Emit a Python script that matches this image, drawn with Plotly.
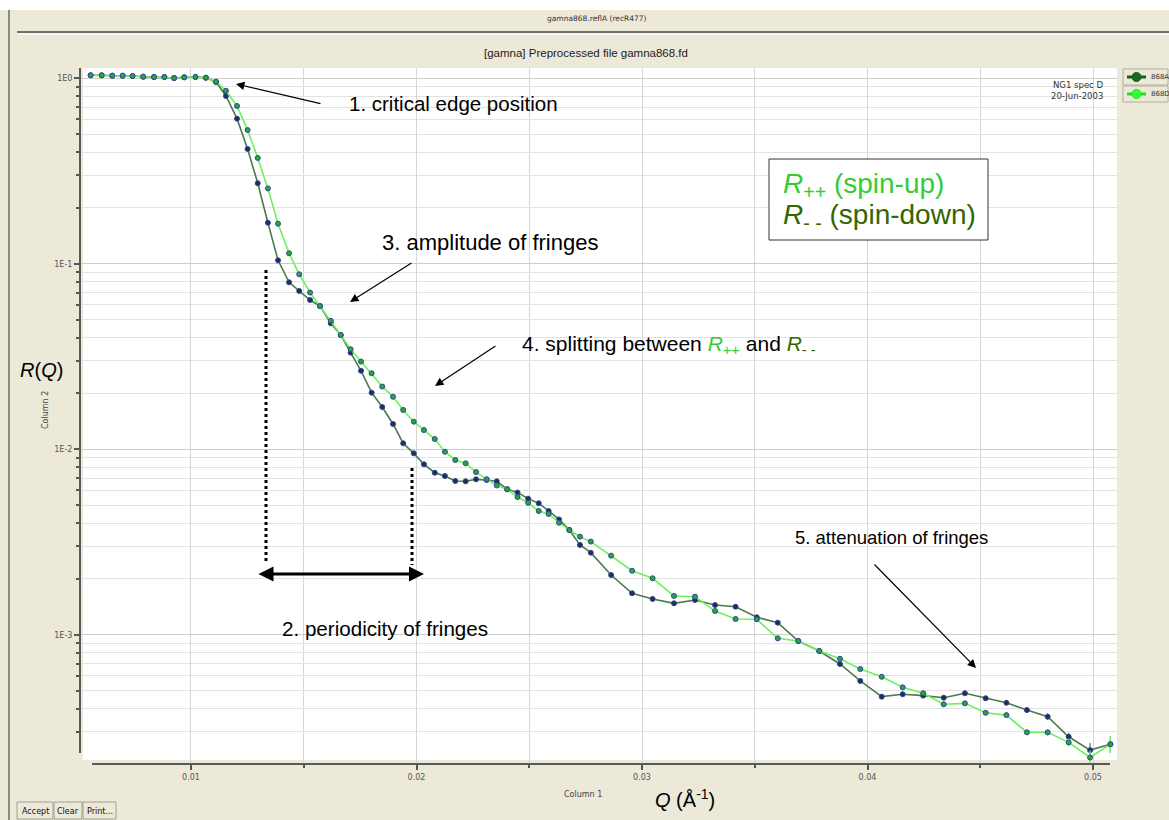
import plotly.graph_objects as go

# Momentum transfer Q (1/Angstrom) shared by both spin channels
q = [0.00555, 0.00604, 0.00651, 0.00697, 0.00741, 0.00788, 0.00836, 0.00882, 0.00925, 0.00970,
     0.01020, 0.01066, 0.01111, 0.01155, 0.01204, 0.01251, 0.01296, 0.01341, 0.01386, 0.01435,
     0.01480, 0.01528, 0.01572, 0.01620, 0.01664, 0.01708, 0.01754, 0.01801, 0.01848, 0.01896,
     0.01941, 0.01988, 0.02033, 0.02081, 0.02126, 0.02172, 0.02218, 0.02264, 0.02311, 0.02356,
     0.02402, 0.02448, 0.02495, 0.02542, 0.02586, 0.02632, 0.02678, 0.02725, 0.02773, 0.02863,
     0.02956, 0.03047, 0.03142, 0.03235, 0.03324, 0.03415, 0.03509, 0.03602, 0.03693, 0.03786,
     0.03878, 0.03968, 0.04063, 0.04156, 0.04247, 0.04338, 0.04432, 0.04524, 0.04616, 0.04707,
     0.04799, 0.04892, 0.04987, 0.05077]

# 868A : R-- (spin-down)
r_868a = [1.038, 1.038, 1.033, 1.033, 1.029, 1.020, 1.016, 1.016, 1.004, 1.012,
          1.016, 1.007, 0.955, 0.803, 0.606, 0.416, 0.272, 0.1665, 0.1044, 0.0795,
          0.0714, 0.0638, 0.0592, 0.0478, 0.0413, 0.0332, 0.0265, 0.0202, 0.0169, 0.01369,
          0.01077, 0.00951, 0.0083, 0.00748, 0.00718, 0.00675, 0.00672, 0.00689, 0.00683, 0.00672,
          0.00609, 0.00585, 0.00542, 0.00512, 0.00465, 0.00419, 0.00367, 0.00305, 0.00277, 0.00210,
          0.001674, 0.00156, 0.001478, 0.00154, 0.001447, 0.001417, 0.001243, 0.001162, 0.000926, 0.000818,
          0.000696, 0.000564, 0.000464, 0.000478, 0.000470, 0.000458, 0.000484, 0.000455, 0.000430, 0.000393,
          0.000362, 0.000282, 0.000239, 0.000257]

# 868D : R++ (spin-up)
r_868d = [1.038, 1.038, 1.033, 1.033, 1.029, 1.020, 1.016, 1.016, 1.004, 1.012,
          1.016, 1.007, 0.958, 0.857, 0.709, 0.526, 0.372, 0.255, 0.1645, 0.1139,
          0.0878, 0.0700, 0.0592, 0.0493, 0.0413, 0.0346, 0.0297, 0.0257, 0.0218, 0.0192,
          0.0163, 0.01409, 0.0127, 0.01136, 0.0097, 0.00876, 0.0084, 0.00754, 0.00690, 0.00638,
          0.00609, 0.00553, 0.00515, 0.00465, 0.00448, 0.00402, 0.00367, 0.00338, 0.00318, 0.00267,
          0.002216, 0.002017, 0.00162, 0.001605, 0.001343, 0.001217, 0.001212, 0.000957, 0.000926, 0.000818,
          0.000743, 0.000654, 0.000594, 0.000521, 0.000484, 0.000422, 0.000427, 0.000380, 0.000369, 0.000298,
          0.000298, 0.000263, 0.000218, 0.000257]

# counting-statistics uncertainty (only visible at the highest Q)
err_868a = [0.0] * 68 + [0.000012, 0.000012, 0.000014, 0.000014, 0.000022, 0.000026]
err_868d = [0.0] * 68 + [0.000010, 0.000010, 0.000012, 0.000013, 0.000020, 0.000026]

x_ticks = [0.01, 0.02, 0.03, 0.04, 0.05]
x_ticklabels = ["0.01", "0.02", "0.03", "0.04", "0.05"]
y_ticks = [1e0, 1e-1, 1e-2, 1e-3]
y_ticklabels = ["1E0", "1E-1", "1E-2", "1E-3"]
series_names = ["868A", "868D"]

W, H = 1169, 820
ML, MR, MT, MB = 80, 52, 68, 56
PW, PH = W - ML - MR, H - MT - MB

BEIGE = "#ECE9D8"
DARK_LINE = "#4b7a4b"
DARK_MARK = "#1c3050"
LIGHT_LINE = "#6cf25c"
LIGHT_MARK = "#23a83a"
EDGE = "#33449a"
UI_FONT = "DejaVu Sans"
TXT_FONT = "Liberation Sans"


def px(x):
    return (x - ML) / PW


def py(y):
    return (MT + PH - y) / PH


fig = go.Figure()
fig.add_trace(go.Scatter(
    x=q, y=r_868a, name=series_names[0], mode="lines+markers",
    line=dict(color=DARK_LINE, width=1.6),
    marker=dict(size=5, color=DARK_MARK, line=dict(color=EDGE, width=1)),
    error_y=dict(type="data", array=err_868a, visible=True, color=DARK_LINE, thickness=1.2, width=0),
))
fig.add_trace(go.Scatter(
    x=q, y=r_868d, name=series_names[1], mode="lines+markers",
    line=dict(color=LIGHT_LINE, width=1.6),
    marker=dict(size=5, color=LIGHT_MARK, line=dict(color=EDGE, width=1)),
    error_y=dict(type="data", array=err_868d, visible=True, color=LIGHT_LINE, thickness=1.2, width=0),
))

minor_y = [m * 10.0 ** e for e in range(-4, 1) for m in range(2, 10)]

fig.update_xaxes(
    range=[0.005078, 0.051064], showline=False, zeroline=False,
    tickmode="array", tickvals=x_ticks, ticktext=x_ticklabels,
    ticks="outside", ticklen=5, tickwidth=1.5, tickcolor="#555555",
    tickfont=dict(family=UI_FONT, size=8, color="#555555"),
    showgrid=True, gridcolor="#d6d6d6", gridwidth=1,
    minor=dict(dtick=0.005, tick0=0, ticks="outside", ticklen=3, tickwidth=1.5,
               tickcolor="#555555", showgrid=True, gridcolor="#d6d6d6"),
)
fig.update_yaxes(
    type="log", range=[-3.6965, 0.0555], showline=False, zeroline=False,
    tickmode="array", tickvals=y_ticks, ticktext=y_ticklabels,
    ticks="outside", ticklen=5, tickwidth=1.5, tickcolor="#555555",
    tickfont=dict(family=UI_FONT, size=8, color="#555555"),
    showgrid=True, gridcolor="#cdcdcd", gridwidth=1,
    minor=dict(tickmode="array", tickvals=minor_y, ticks="outside", ticklen=3, tickwidth=1.5,
               tickcolor="#555555", showgrid=True, gridcolor="#e3e3e3"),
)

shapes = []


def rect(x0, y0, x1, y1, fill, line_color=None, lw=0, layer="below"):
    shapes.append(dict(type="rect", xref="paper", yref="paper",
                       x0=px(x0), x1=px(x1), y0=py(y1), y1=py(y0),
                       fillcolor=fill, layer=layer,
                       line=dict(color=line_color or fill, width=lw)))


def seg(x0, y0, x1, y1, color, width, dash="solid", layer="above"):
    shapes.append(dict(type="line", xref="paper", yref="paper",
                       x0=px(x0), x1=px(x1), y0=py(y0), y1=py(y1), layer=layer,
                       line=dict(color=color, width=width, dash=dash)))


# window chrome
rect(0, 0, W, 10, "#ffffff", layer="below")
seg(9, 10, 9, H, "#8a8a80", 2)
seg(17, 32, W, 32, "#707068", 2)
seg(17, 34, W, 34, "#ffffff", 1)
# white plotting canvas
rect(83, 68, 1117, 760, "#ffffff", layer="below")
# axis lines
seg(80, 68, 80, 753, "#5a5a5a", 2)
seg(92, 764, 1110, 764, "#5a5a5a", 2)

# legend buttons
for i, (nm, lc, mc) in enumerate([(series_names[0], "#1f5a1f", "#1a6a1a"),
                                  (series_names[1], "#22dd22", "#33ff33")]):
    y0 = 69 + i * 17
    rect(1123, y0, 1168, y0 + 16, "#ECE9D8", "#b0ae9e", 1, layer="above")
    seg(1127, y0 + 8, 1146, y0 + 8, lc, 3)
    shapes.append(dict(type="circle", xref="paper", yref="paper",
                       x0=px(1132), x1=px(1141), y0=py(y0 + 12.5), y1=py(y0 + 3.5),
                       fillcolor=mc, line=dict(color=lc, width=1), layer="above"))

# bottom buttons
for x0, x1 in [(17, 53), (54, 82), (83, 116)]:
    rect(x0, 802, x1, 819, "#ECE9D8", "#a0a090", 1, layer="above")

# periodicity markers
seg(266, 270, 266, 562, "#000000", 3, dash="dot")
seg(412, 468, 412, 565, "#000000", 3, dash="dot")

# legend box for spin channels
rect(769, 159, 988, 240, "#ffffff", "#333333", 1, layer="above")

annotations = []


def text(x, y, s, size, color="#000000", font=TXT_FONT, xanchor="left", angle=0):
    annotations.append(dict(xref="paper", yref="paper", x=px(x), y=py(y), text=s,
                            showarrow=False, xanchor=xanchor, yanchor="middle",
                            textangle=angle, font=dict(family=font, size=size, color=color)))


def arrow(hx, hy, tx, ty, width=1.2, size=1.4, both=False):
    annotations.append(dict(xref="paper", yref="paper", x=px(hx), y=py(hy), text="",
                            showarrow=True, ax=tx - hx, ay=ty - hy, arrowhead=2,
                            arrowsize=size, arrowwidth=width, arrowcolor="#000000",
                            arrowside="end+start" if both else "end", standoff=0, startstandoff=0))


text(597, 19, "gamna868.reflA (recR477)", 7.5, "#333333", UI_FONT, "center")
text(586, 53, "[gamna] Preprocessed file gamna868.fd", 11.5, "#222222", TXT_FONT, "center")
text(1105, 85, "NG1 spec D", 8.5, "#333333", UI_FONT, "right")
text(1105, 96, "20-Jun-2003", 8.5, "#333333", UI_FONT, "right")
text(1149, 77, series_names[0], 7, "#333333", UI_FONT)
text(1149, 94, series_names[1], 7, "#333333", UI_FONT)
text(45, 410, "Column 2", 8, "#444444", UI_FONT, "center", -90)
text(583, 794, "Column 1", 8, "#444444", UI_FONT, "center")
text(35, 811, "Accept", 8, "#111111", UI_FONT, "center")
text(68, 811, "Clear", 8, "#111111", UI_FONT, "center")
text(99.5, 811, "Print...", 8, "#111111", UI_FONT, "center")

text(18, 370, "<i>R</i>(<i>Q</i>)", 20)
text(653, 798, "<i>Q</i> (Å<sup>-1</sup>)", 20)

text(347, 103, "1. critical edge position", 20.5)
arrow(236, 84, 322, 104)
text(380, 243, "3. amplitude of fringes", 22)
arrow(350, 302, 413, 262)
text(520, 345, "4. splitting between <i><span style='color:#33cc33'>R</span></i>"
               "<sub><span style='color:#33cc33'>++</span></sub> and "
               "<i><span style='color:#336600'>R</span></i><sub><span style='color:#336600'>- -</span></sub>", 21)
arrow(435, 386, 497, 345)
text(793, 537, "5. attenuation of fringes", 18.5)
arrow(976, 668, 873, 563)
text(280, 628, "2. periodicity of fringes", 20.6)
arrow(424, 574, 257, 574, width=3, size=1, both=True)

text(781, 185, "<i>R</i><sub>++</sub> (spin-up)", 28, "#33cc33")
text(781, 216, "<i>R</i><sub>- -</sub> (spin-down)", 28, "#336600")

fig.update_layout(
    width=W, height=H, autosize=False,
    margin=dict(l=ML, r=MR, t=MT, b=MB, pad=0),
    paper_bgcolor=BEIGE, plot_bgcolor=BEIGE,
    showlegend=False,
    shapes=shapes, annotations=annotations,
)

fig.write_html("out.html")
